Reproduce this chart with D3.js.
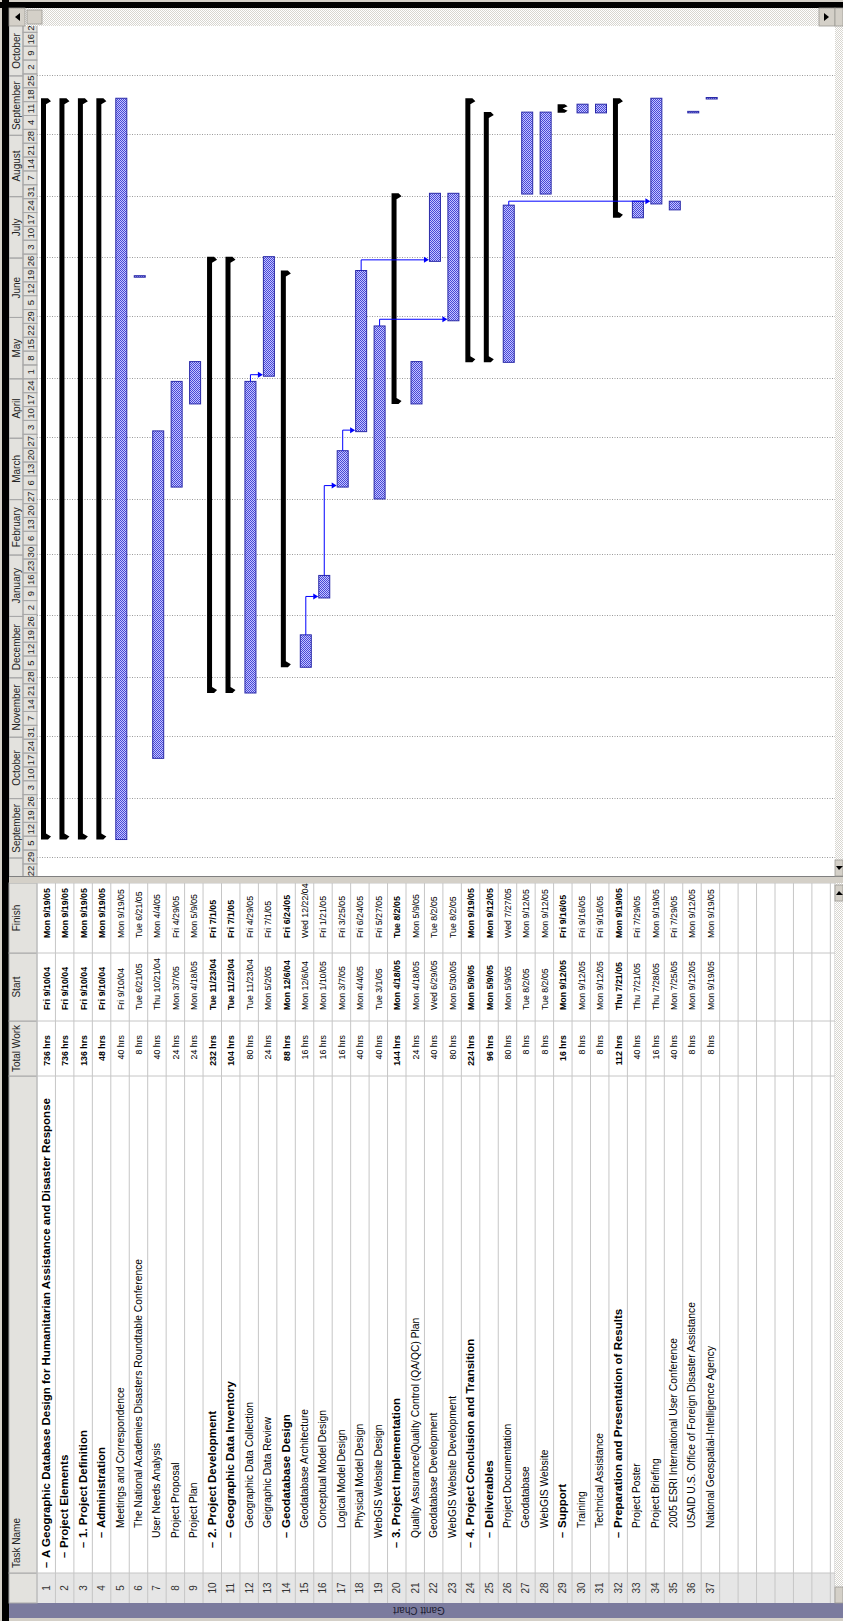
<!DOCTYPE html>
<html>
<head>
<meta charset="utf-8">
<script src="https://cdn.jsdelivr.net/npm/d3@7"></script>
<style>
  body { margin: 0; background: #ffffff; }
  svg { display: block; }
  text { font-family: "Liberation Sans", Arial, sans-serif; }
</style>
</head>
<body>
<svg id="chart" width="843" height="1621"></svg>
<script>
// ---- project data -------------------------------------------------------
const taskIds = d3.range(1, 38);
const taskNames = [
  "A Geographic Database Design for Humanitarian Assistance and Disaster Response",
  "Project Elements",
  "1. Project Definition",
  "Administration",
  "Meetings and Correspondence",
  "The National Academies Disasters Roundtable Conference",
  "User Needs Analysis",
  "Project Proposal",
  "Project Plan",
  "2. Project Development",
  "Geographic Data Inventory",
  "Geographic Data Collection",
  "Geigraphic Data Review",
  "Geodatabase Design",
  "Geodatabase Architecture",
  "Conceptual Model Design",
  "Logical Model Design",
  "Physical Model Design",
  "WebGIS Website Design",
  "3. Project Implementation",
  "Quality Assurance/Quality Control (QA/QC) Plan",
  "Geodatabase Development",
  "WebGIS Website Development",
  "4. Project Conclusion and Transition",
  "Deliverables",
  "Project Documentation",
  "Geodatabase",
  "WebGIS Website",
  "Support",
  "Training",
  "Technical Assistance",
  "Preparation and Presentation of Results",
  "Project Poster",
  "Project Briefing",
  "2005 ESRI International User Conference",
  "USAID U.S. Office of Foreign Disaster Assistance",
  "National Geospatial-Intelligence Agency"
];
const outlineLevels = [0,1,2,3,4,4,3,3,3,2,3,4,4,3,4,4,4,4,3,2,3,3,3,2,3,4,4,4,3,4,4,3,4,4,4,4,4];
const summaryFlags  = [1,1,1,1,0,0,0,0,0,1,1,0,0,1,0,0,0,0,0,1,0,0,0,1,1,0,0,0,1,0,0,1,0,0,0,0,0];
const totalWork = [
  "736 hrs","736 hrs","136 hrs","48 hrs","40 hrs","8 hrs","40 hrs","24 hrs","24 hrs",
  "232 hrs","104 hrs","80 hrs","24 hrs","88 hrs","16 hrs","16 hrs","16 hrs","40 hrs","40 hrs",
  "144 hrs","24 hrs","40 hrs","80 hrs","224 hrs","96 hrs","80 hrs","8 hrs","8 hrs",
  "16 hrs","8 hrs","8 hrs","112 hrs","40 hrs","16 hrs","40 hrs","8 hrs","8 hrs"
];
const startDates = [
  "Fri 9/10/04","Fri 9/10/04","Fri 9/10/04","Fri 9/10/04","Fri 9/10/04","Tue 6/21/05",
  "Thu 10/21/04","Mon 3/7/05","Mon 4/18/05","Tue 11/23/04","Tue 11/23/04","Tue 11/23/04",
  "Mon 5/2/05","Mon 12/6/04","Mon 12/6/04","Mon 1/10/05","Mon 3/7/05","Mon 4/4/05",
  "Tue 3/1/05","Mon 4/18/05","Mon 4/18/05","Wed 6/29/05","Mon 5/30/05","Mon 5/9/05",
  "Mon 5/9/05","Mon 5/9/05","Tue 8/2/05","Tue 8/2/05","Mon 9/12/05","Mon 9/12/05",
  "Mon 9/12/05","Thu 7/21/05","Thu 7/21/05","Thu 7/28/05","Mon 7/25/05","Mon 9/12/05",
  "Mon 9/19/05"
];
const finishDates = [
  "Mon 9/19/05","Mon 9/19/05","Mon 9/19/05","Mon 9/19/05","Mon 9/19/05","Tue 6/21/05",
  "Mon 4/4/05","Fri 4/29/05","Mon 5/9/05","Fri 7/1/05","Fri 7/1/05","Fri 4/29/05",
  "Fri 7/1/05","Fri 6/24/05","Wed 12/22/04","Fri 1/21/05","Fri 3/25/05","Fri 6/24/05",
  "Fri 5/27/05","Tue 8/2/05","Mon 5/9/05","Tue 8/2/05","Tue 8/2/05","Mon 9/19/05",
  "Mon 9/12/05","Wed 7/27/05","Mon 9/12/05","Mon 9/12/05","Fri 9/16/05","Fri 9/16/05",
  "Fri 9/16/05","Mon 9/19/05","Fri 7/29/05","Mon 9/19/05","Fri 7/29/05","Mon 9/12/05",
  "Mon 9/19/05"
];
// finish-to-start links: [predecessor id, successor id]
const predecessorIds = [12, 15, 16, 17, 18, 19, 26];
const successorIds   = [13, 16, 17, 18, 22, 23, 34];
// timescale range and column headings
const timescaleStart = "8/22/04";
const timescaleEnd = "10/23/05";
const columnHeads = ["", "Task Name", "Total Work", "Start", "Finish"];
const viewName = "Gantt Chart";

// ---- helpers ------------------------------------------------------------
const parseDay = d3.timeParse("%m/%d/%y");
const toDay = s => parseDay(s.split(" ").pop());
const tasks = taskIds.map((id, i) => ({
  id, name: taskNames[i], level: outlineLevels[i], summary: !!summaryFlags[i],
  work: totalWork[i], startLabel: startDates[i], finishLabel: finishDates[i],
  start: d3.timeHour.offset(toDay(startDates[i]), 8),
  finish: d3.timeHour.offset(toDay(finishDates[i]), 17)
}));
const byId = new Map(tasks.map(t => [t.id, t]));

// Window is laid out landscape (1621 x 843) and turned a quarter turn.
const W = 1621, H = 843;
const svg = d3.select("#chart");
const root = svg.append("g").attr("transform", `translate(0,${W}) rotate(-90)`);
const defs = svg.append("defs");

const bar = defs.append("pattern").attr("id", "barFill")
  .attr("patternUnits", "userSpaceOnUse").attr("width", 2).attr("height", 2);
bar.append("rect").attr("width", 2).attr("height", 2).attr("fill", "#c4c4ff");
bar.append("rect").attr("width", 1).attr("height", 1).attr("fill", "#4848d6");
bar.append("rect").attr("x", 1).attr("y", 1).attr("width", 1).attr("height", 1).attr("fill", "#4848d6");

const track = defs.append("pattern").attr("id", "trackFill")
  .attr("patternUnits", "userSpaceOnUse").attr("width", 2).attr("height", 2);
track.append("rect").attr("width", 2).attr("height", 2).attr("fill", "#ffffff");
track.append("rect").attr("width", 1).attr("height", 1).attr("fill", "#d8d6d0");
track.append("rect").attr("x", 1).attr("y", 1).attr("width", 1).attr("height", 1).attr("fill", "#d8d6d0");

// ---- geometry ------------------------------------------------------------
const headTop = 9, headBottom = 37, bodyBottom = 835;
const rowH = 18.45;
const y = d3.scaleBand().domain(taskIds).range([headBottom, headBottom + rowH * taskIds.length]);
const paneLeft = 745, paneRight = 1595;
const x = d3.scaleTime()
  .domain([parseDay(timescaleStart), parseDay(timescaleEnd)])
  .range([743.2, 743.2 + 427 * 1.98]);

const cols = [
  { x0: 18,  x1: 48 },
  { x0: 48,  x1: 545 },
  { x0: 545, x1: 600 },
  { x0: 600, x1: 668 },
  { x0: 668, x1: 738 }
];

// window background and frame
root.append("rect").attr("x", 0).attr("y", 0).attr("width", W).attr("height", H).attr("fill", "#d4d0c8");
root.append("rect").attr("x", 0).attr("y", 2).attr("width", W).attr("height", 7).attr("fill", "#000");
root.append("rect").attr("x", 1613).attr("y", 0).attr("width", 6).attr("height", H).attr("fill", "#000");

// view bar
root.append("rect").attr("x", 3).attr("y", 9).attr("width", 15).attr("height", H - 9).attr("fill", "#7b7b9e");
root.append("text").attr("transform", "translate(14,419) rotate(-90)")
  .attr("text-anchor", "middle").attr("font-size", 10).attr("fill", "#1c1c30").text(viewName);

// ---- table ---------------------------------------------------------------
const table = root.append("g");
table.append("rect").attr("x", 18).attr("y", headTop).attr("width", 720).attr("height", bodyBottom - headTop).attr("fill", "#ffffff");
table.append("rect").attr("x", 18).attr("y", headBottom).attr("width", 30).attr("height", bodyBottom - headBottom).attr("fill", "#e6e6e6");
// header cells
table.selectAll("rect.head").data(cols).join("rect").attr("class", "head")
  .attr("x", d => d.x0).attr("y", headTop).attr("width", d => d.x1 - d.x0).attr("height", headBottom - headTop)
  .attr("fill", "#e3e2de").attr("stroke", "#a8a8a8").attr("stroke-width", 1);
table.selectAll("text.head").data(columnHeads).join("text").attr("class", "head")
  .attr("x", (d, i) => i === 1 ? 53 : (cols[i].x0 + cols[i].x1) / 2)
  .attr("y", 20)
  .attr("text-anchor", (d, i) => i === 1 ? "start" : "middle")
  .attr("font-size", 10).attr("fill", "#222").text(d => d);

// body grid
const gridRows = d3.range(0, Math.ceil((bodyBottom - headBottom) / rowH) + 1);
table.selectAll("line.row").data(gridRows).join("line").attr("class", "row")
  .attr("x1", 18).attr("x2", 738)
  .attr("y1", d => Math.min(headBottom + d * rowH, bodyBottom)).attr("y2", d => Math.min(headBottom + d * rowH, bodyBottom))
  .attr("stroke", "#c6c6c6").attr("stroke-width", 1);
table.selectAll("line.col").data(cols).join("line").attr("class", "col")
  .attr("x1", d => d.x1).attr("x2", d => d.x1).attr("y1", headBottom).attr("y2", bodyBottom)
  .attr("stroke", "#c6c6c6").attr("stroke-width", 1);

const rows = table.selectAll("g.task").data(tasks).join("g").attr("class", "task")
  .attr("transform", d => `translate(0,${y(d.id) + y.bandwidth() / 2 + 3.5})`)
  .attr("font-size", 8.8).attr("fill", "#000")
  .attr("font-weight", d => d.summary ? "bold" : "normal");
rows.append("text").attr("x", 33).attr("text-anchor", "middle").attr("font-size", 10)
  .attr("font-weight", "normal").attr("fill", "#333").text(d => d.id);
rows.filter(d => d.summary).append("text").attr("x", d => 53 + d.level * 10).attr("font-size", 11).text("\u2013");
rows.append("text").attr("x", d => 53 + d.level * 10 + (d.summary ? 10 : 0))
  .attr("font-size", d => d.summary ? 11.5 : 10.3).text(d => d.name);
rows.append("text").attr("x", 586).attr("text-anchor", "end").text(d => d.work);
rows.append("text").attr("x", 611).text(d => d.startLabel);
rows.append("text").attr("x", 683).text(d => d.finishLabel);

// split bar between table and chart
root.append("rect").attr("x", 738).attr("y", 9).attr("width", 7).attr("height", H - 9).attr("fill", "#d4d0c8");
root.append("line").attr("x1", 744.5).attr("x2", 744.5).attr("y1", 9).attr("y2", H).attr("stroke", "#808080");

// ---- gantt pane ----------------------------------------------------------
defs.append("clipPath").attr("id", "pane").append("rect")
  .attr("x", paneLeft).attr("y", headTop).attr("width", paneRight - paneLeft).attr("height", bodyBottom - headTop);
const pane = root.append("g").attr("clip-path", "url(#pane)");
pane.append("rect").attr("x", paneLeft).attr("y", headTop).attr("width", paneRight - paneLeft)
  .attr("height", bodyBottom - headTop).attr("fill", "#ffffff");

// timescale: months over weeks
const domain = x.domain();
const months = d3.timeMonth.range(d3.timeMonth.floor(domain[0]), d3.timeMonth.offset(domain[1], 1));
const weeks = d3.timeSunday.range(domain[0], d3.timeWeek.offset(domain[1], 1));
const midTier = 23;
pane.append("rect").attr("x", paneLeft).attr("y", headTop).attr("width", paneRight - paneLeft)
  .attr("height", headBottom - headTop).attr("fill", "#e3e2de");
pane.selectAll("rect.month").data(months).join("rect").attr("class", "month")
  .attr("x", d => x(d)).attr("y", headTop).attr("width", d => x(d3.timeMonth.offset(d, 1)) - x(d))
  .attr("height", midTier - headTop).attr("fill", "none").attr("stroke", "#a8a8a8");
pane.selectAll("rect.week").data(weeks).join("rect").attr("class", "week")
  .attr("x", d => x(d)).attr("y", midTier).attr("width", d => x(d3.timeWeek.offset(d, 1)) - x(d))
  .attr("height", headBottom - midTier).attr("fill", "none").attr("stroke", "#a8a8a8");
const monthFmt = d3.timeFormat("%B");
pane.selectAll("text.month").data(months.filter(m => {
    const a = Math.max(x(m), paneLeft), b = Math.min(x(d3.timeMonth.offset(m, 1)), paneRight);
    return b - a > 40;
  })).join("text").attr("class", "month")
  .attr("x", m => (Math.max(x(m), paneLeft) + Math.min(x(d3.timeMonth.offset(m, 1)), paneRight)) / 2)
  .attr("y", 20).attr("text-anchor", "middle").attr("font-size", 10).attr("fill", "#222")
  .text(monthFmt);
pane.selectAll("text.week").data(weeks).join("text").attr("class", "week")
  .attr("x", d => (x(d) + x(d3.timeWeek.offset(d, 1))) / 2)
  .attr("y", 34).attr("text-anchor", "middle").attr("font-size", 9.5).attr("fill", "#222")
  .text(d3.timeFormat("%-d"));

// month gridlines
pane.selectAll("line.grid").data(months).join("line").attr("class", "grid")
  .attr("x1", d => Math.round(x(d)) + 0.5).attr("x2", d => Math.round(x(d)) + 0.5)
  .attr("y1", headBottom).attr("y2", bodyBottom)
  .attr("stroke", "#9a9a9a").attr("stroke-dasharray", "1,1.5");

// task bars
pane.selectAll("rect.taskbar").data(tasks.filter(t => !t.summary)).join("rect").attr("class", "taskbar")
  .attr("x", d => x(d.start)).attr("y", d => y(d.id) + 5)
  .attr("width", d => Math.max(1.5, x(d.finish) - x(d.start))).attr("height", 11)
  .attr("fill", "url(#barFill)").attr("stroke", "#2a2aa8").attr("stroke-width", 1);

// summary bars with end caps
const summaryPath = d => {
  const a = x(d.start), b = x(d.finish), t = y(d.id) + 4;
  const th = 5, cap = 10, w = Math.min(6, (b - a) / 2);
  return `M${a},${t}H${b}V${t + th + 2}L${b - w / 2},${t + cap}L${b - w},${t + th}` +
         `H${a + w}L${a + w / 2},${t + cap}L${a},${t + th + 2}Z`;
};
pane.selectAll("path.summary").data(tasks.filter(t => t.summary)).join("path").attr("class", "summary")
  .attr("d", summaryPath).attr("fill", "#000");

// dependency links
const linkData = predecessorIds.map((p, i) => ({ from: byId.get(p), to: byId.get(successorIds[i]) }));
const linkG = pane.append("g").attr("stroke", "#0000ff").attr("fill", "none").attr("stroke-width", 1);
linkG.selectAll("path").data(linkData).join("path").attr("d", d => {
  const xe = x(d.from.finish), yc = y(d.from.id) + 10.5;
  const xv = Math.max(x(d.to.start) + 1.5, xe + 4);
  const top = y(d.to.id) + 4;
  return `M${xe},${yc}H${xv}V${top - 4}`;
});
pane.append("g").selectAll("path").data(linkData).join("path").attr("fill", "#0000ff").attr("d", d => {
  const xe = x(d.from.finish);
  const xv = Math.max(x(d.to.start) + 1.5, xe + 4);
  const top = y(d.to.id) + 4.5;
  return `M${xv - 3},${top - 5}H${xv + 3}L${xv},${top}Z`;
});

// ---- scrollbars ------------------------------------------------------------
const sb = root.append("g");
sb.append("rect").attr("x", paneRight).attr("y", headTop).attr("width", 18).attr("height", bodyBottom - headTop).attr("fill", "url(#trackFill)");
sb.append("rect").attr("x", 18).attr("y", bodyBottom).attr("width", 720).attr("height", H - bodyBottom).attr("fill", "url(#trackFill)");
sb.append("rect").attr("x", paneLeft).attr("y", bodyBottom).attr("width", paneRight - paneLeft).attr("height", H - bodyBottom).attr("fill", "url(#trackFill)");
const btn = (bx, by, bw, bh) => sb.append("rect").attr("x", bx).attr("y", by).attr("width", bw).attr("height", bh)
  .attr("fill", "#d4d0c8").attr("stroke", "#9c9a94").attr("stroke-width", 0.8);
btn(paneRight, headTop, 18, 16);
btn(paneRight + 2, 27, 14, 15);
btn(paneRight, bodyBottom - 16, 18, 16);
btn(paneRight, bodyBottom, 18, H - bodyBottom);
btn(paneLeft, bodyBottom, 16, H - bodyBottom);
btn(720, bodyBottom, 16, H - bodyBottom);
btn(18, bodyBottom, 16, H - bodyBottom);
sb.append("path").attr("d", `M${paneRight + 5},20H${paneRight + 13}L${paneRight + 9},15Z`).attr("fill", "#000");
sb.append("path").attr("d", `M${paneRight + 5},${bodyBottom - 11}H${paneRight + 13}L${paneRight + 9},${bodyBottom - 6}Z`).attr("fill", "#000");
sb.append("path").attr("d", `M${paneLeft + 10},${bodyBottom + 1}V${H}L${paneLeft + 6},${bodyBottom + 4}Z`).attr("fill", "#000");
sb.append("path").attr("d", `M${726},${bodyBottom + 1}V${H}L${730},${bodyBottom + 4}Z`).attr("fill", "#000");
</script>
</body>
</html>
